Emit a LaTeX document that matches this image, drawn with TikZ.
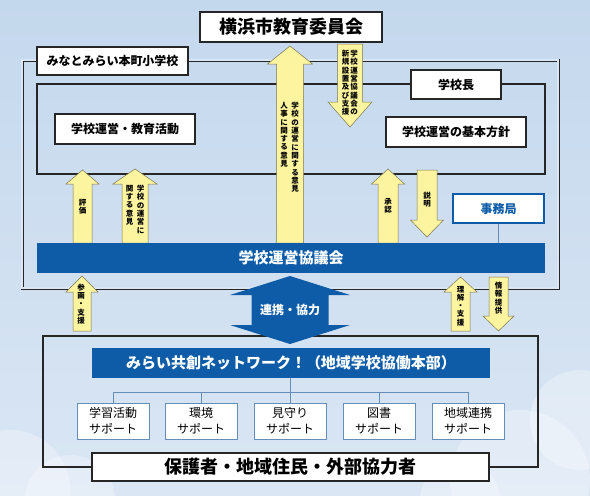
\documentclass[tikz,border=0pt]{standalone}
\usepackage{fontspec}
\setmainfont{Noto Sans CJK JP}
\usetikzlibrary{positioning}
\definecolor{skytop}{RGB}{196,216,237}
\definecolor{skylow}{RGB}{218,230,244}
\definecolor{councilblue}{RGB}{14,92,168}
\definecolor{arrowyellow}{RGB}{252,244,158}
\definecolor{arrowedge}{RGB}{125,118,80}
\definecolor{supportedge}{RGB}{100,142,186}

% stack the characters of a label one per line
\ExplSyntaxOn
\NewDocumentCommand\tate{m}{
  \seq_clear:N \l_tmpa_seq
  \tl_map_inline:nn {#1} { \seq_put_right:Nn \l_tmpa_seq {##1} }
  \seq_use:Nn \l_tmpa_seq {\\}
}
\ExplSyntaxOff

% x, shaft half width, head half width, tip y, head base y, tail y
\newcommand\blockarrow[6]{%
  \draw[yellowarrow] (#1-#2,#6) -- (#1-#2,#5) -- (#1-#3,#5) -- (#1,#4)
    -- (#1+#3,#5) -- (#1+#2,#5) -- (#1+#2,#6) -- cycle;}

\begin{document}
\begin{tikzpicture}[x=1pt, y=-1pt,
    whitebox/.style={draw=black!85, line width=1.2pt, fill=white, inner sep=0, align=center},
    bigtext/.style={font=\bfseries\fontsize{18}{20}\selectfont},
    boxtext/.style={font=\bfseries\fontsize{12}{14}\selectfont},
    bluebar/.style={fill=councilblue, text=white, inner sep=0, font=\bfseries\fontsize{15}{17}\selectfont},
    supportbox/.style={draw=supportedge, line width=0.8pt, fill=white, inner sep=0, align=center,
      minimum width=72pt, minimum height=36pt, font=\fontsize{12}{16}\selectfont},
    treeline/.style={draw=supportedge, line width=0.7pt},
    yellowarrow/.style={fill=arrowyellow, draw=arrowedge, line width=0.5pt},
    vlabel/.style={inner sep=0, align=center, font=\bfseries\fontsize{7.5}{8.3}\selectfont},
    frame/.style={draw=black!85, line width=1.2pt},
    doubleframe/.style={draw=black!85, line width=0.9pt, double=skylow, double distance=1.2pt}]

    % sky
    \fill[top color=skytop, bottom color=skylow] (0,0) rectangle (590,496);
    \useasboundingbox (0,0) rectangle (590,496);
    \foreach \cx/\cy/\r in {10/490/60, 70/500/45, 520/480/70, 580/420/50, 460/500/40} {
        \fill[white, opacity=0.3] (\cx,\cy) circle (\r);
    }

    % frames
    \draw[doubleframe] (22,60) rectangle (558,288);
    \draw[frame] (37,84) rectangle (545,174);
    \draw[frame] (43,336) rectangle (538,467);

    % yellow arrows
    \blockarrow{290}{13.5}{22.5}{46}{64}{243}
    \blockarrow{350}{12.5}{22}{127}{102}{44}
    \blockarrow{82.5}{9.5}{16.5}{170}{184}{243}
    \blockarrow{135}{13}{22}{169}{184}{243}
    \blockarrow{388}{10}{16.5}{169}{184}{243}
    \blockarrow{427}{10}{16.5}{237}{220}{170}
    \blockarrow{82}{9}{16}{276}{292}{331}
    \blockarrow{460.5}{9.5}{16.5}{277}{292}{331}
    \blockarrow{498.5}{9.5}{15.5}{331}{316}{277}

    \node[vlabel, anchor=north] (opinionR) at (295,102) {\tate{学校の運営に関する意見}};
    \node[vlabel, anchor=north] (opinionL) at (284,102) {\tate{人事に関する意見}};
    \node[vlabel, anchor=north] (supportR) at (354,50) {\tate{学校運営協議会の}};
    \node[vlabel, anchor=north] (supportL) at (345.5,50) {\tate{新規設置及び支援}};
    \node[vlabel] (hyouka) at (82.5,207) {\tate{評価}};
    \node[vlabel, anchor=north] (ikenR) at (140.5,185) {\tate{学校の運営に}};
    \node[vlabel, anchor=north] (ikenL) at (129.5,185) {\tate{関する意見}};
    \node[vlabel] (shounin) at (388,206) {\tate{承認}};
    \node[vlabel] (setsumei) at (427,200) {\tate{説明}};
    \node[vlabel] (sankaku) at (81,304) {\tate{参画・支援}};
    \node[vlabel] (rikai) at (460.5,306) {\tate{理解・支援}};
    \node[vlabel] (jouhou) at (498.5,298) {\tate{情報提供}};

    % boxes
    \node[whitebox, bigtext, minimum width=182pt, minimum height=30pt] (board) at (291,27) {横浜市教育委員会};
    \node[whitebox, boxtext, minimum width=151pt, minimum height=28pt] (school) at (112.5,61) {みなとみらい本町小学校};
    \node[whitebox, boxtext, minimum width=140pt, minimum height=30pt] (activity) at (125,129) {学校運営・教育活動};
    \node[whitebox, boxtext, minimum width=90pt, minimum height=29pt] (principal) at (456,84.5) {学校長};
    \node[whitebox, boxtext, minimum width=140pt, minimum height=30pt] (policy) at (456,132) {学校運営の基本方針};
    \node[whitebox, boxtext, draw=councilblue, text=councilblue, minimum width=91pt, minimum height=29pt] (office) at (498.5,208.5) {事務局};
    \node[bluebar, minimum width=508pt, minimum height=30pt] (council) at (291,258) {学校運営協議会};
    \draw[treeline] (office.south) -- (office.south |- council.north);

    % cooperation arrow
    \draw[fill=councilblue, draw=none] (290,276) -- (350,295) -- (328.5,295) -- (328.5,325) -- (350,325)
      -- (290,344) -- (230,325) -- (251.5,325) -- (251.5,295) -- (230,295) -- cycle;
    \node[text=white, boxtext] (renkei) at (290,310) {連携・協力};

    % community side
    \node[bluebar, minimum width=398pt, minimum height=30pt] (network) at (291,363) {みらい共創ネットワーク！（地域学校協働本部）};
    \coordinate (fork) at (290,392);
    \draw[treeline] (network.south -| fork) -- (fork);
    \foreach \name/\x/\txt in {study/113/学習活動, environment/201/環境, watch/290/見守り, library/379/図書, local/468/地域連携} {
        \node[supportbox] (\name) at (\x,421) {\txt\\サポート};
        \draw[treeline] (\name.north) |- (fork);
    }
    \node[whitebox, bigtext, minimum width=397pt, minimum height=28pt] (community) at (290.5,467) {保護者・地域住民・外部協力者};
\end{tikzpicture}
\end{document}
